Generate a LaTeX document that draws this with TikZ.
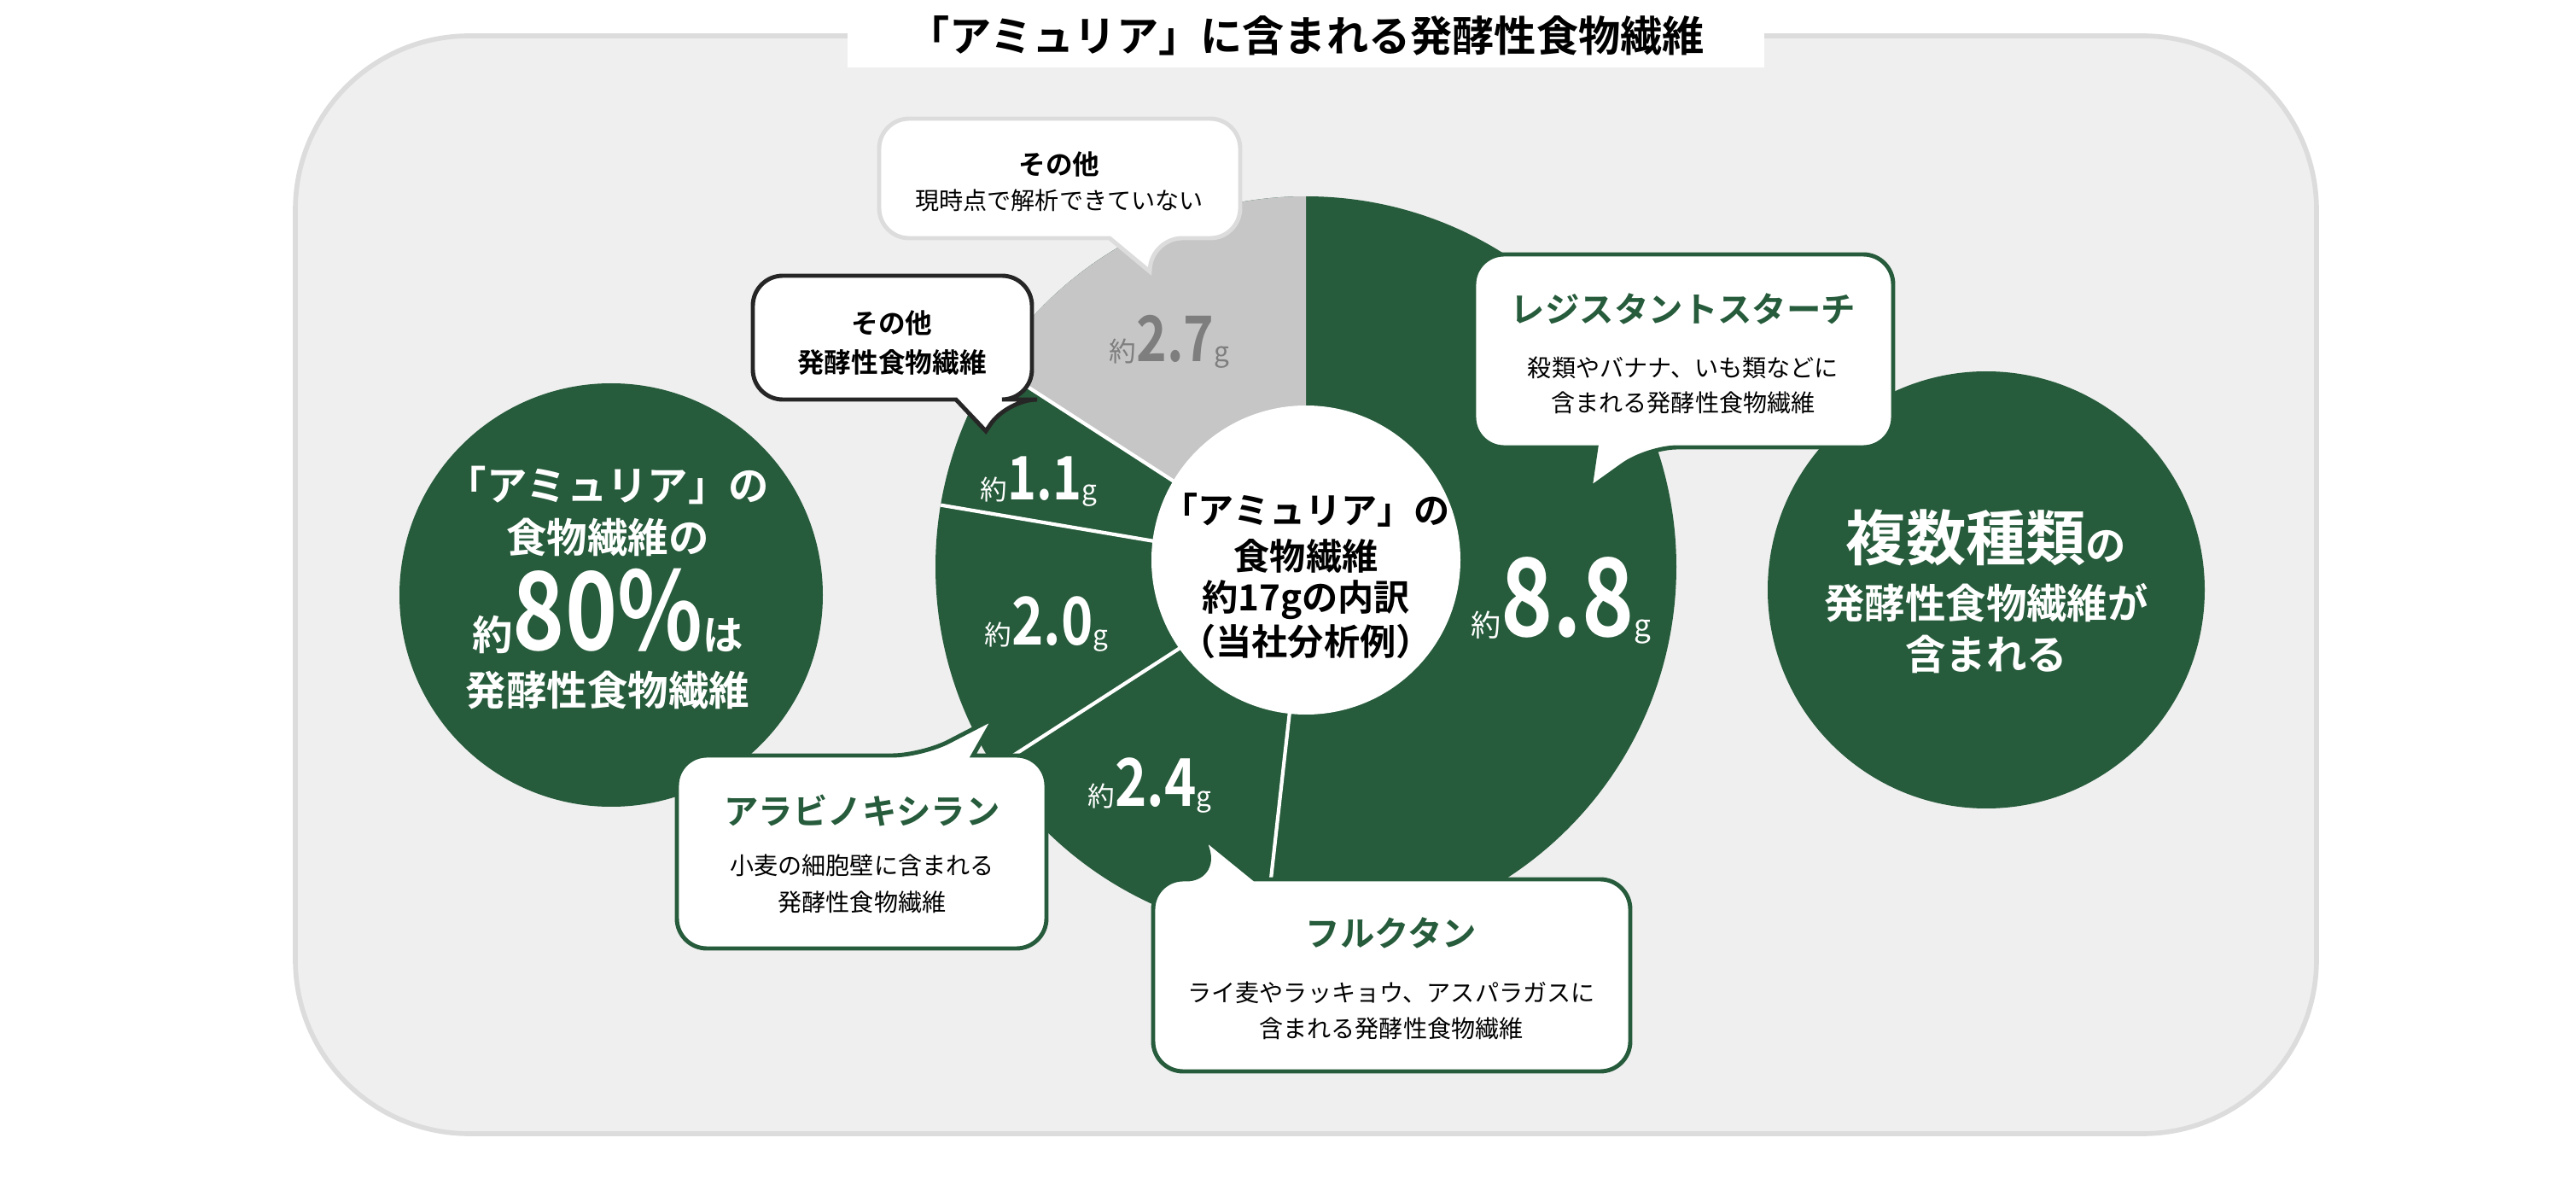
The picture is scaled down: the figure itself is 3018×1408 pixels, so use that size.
\documentclass[tikz,border=0pt]{standalone}
\usepackage{fontspec}
\setmainfont{Noto Sans CJK JP}[BoldFont={Noto Sans CJK JP Bold}]
\newfontfamily\numf{Noto Sans CJK JP Bold}[FakeStretch=0.82]
\definecolor{dg}{HTML}{265B3B}
\definecolor{bgc}{HTML}{EFEFEF}
\definecolor{bdc}{HTML}{DCDCDC}
\definecolor{pg}{HTML}{C6C6C6}
\definecolor{gt}{HTML}{7E7E7E}
\newcommand{\fs}[1]{\fontsize{#1}{#1}\selectfont}
\newcommand{\val}[3]{{\fs{#1}約}{\numf\fs{#2}#3}{\fs{#1}g}}
\begin{document}
\begin{tikzpicture}[x=0.1mm,y=-0.1mm,
  txt/.style={align=center,inner sep=0pt},
  wt/.style={txt,text=white},
  box/.style={fill=white,line width=1.4pt,rounded corners=10},
  sep/.style={draw=white,line width=1.2pt}]
\useasboundingbox (0,0) rectangle (3018,1408);
\fill[white] (0,0) rectangle (3018,1408);
\draw[fill=bgc,draw=bdc,line width=1.6pt,rounded corners=58] (346,42) rectangle (2714,1328);
\node[txt,fill=white,inner xsep=20pt,inner ysep=4pt,font=\bfseries\fs{14}] (title) at (1530,42) {「アミュリア」に含まれる発酵性食物繊維};
% big circles
\fill[dg] (716,697) circle[radius=24.8mm];
\fill[dg] (2327,691) circle[radius=25.6mm];
\node[wt,font=\bfseries\fs{13.5}] (l1) at (712,568) {「アミュリア」の};
\node[wt,font=\bfseries\fs{13.5}] (l2) at (712,629) {食物繊維の};
\node[wt] (l3) at (712,716) {{\bfseries\fs{13.5}約}{\numf\fs{36}80\%}{\bfseries\fs{13.5}は}};
\node[wt,font=\bfseries\fs{13.5}] (l4) at (712,808) {発酵性食物繊維};
\node[wt] (r1) at (2327,630) {{\bfseries\fs{20}複数種類}{\bfseries\fs{13.5}の}};
\node[wt,font=\bfseries\fs{13.5}] (r2) at (2327,706) {発酵性食物繊維が};
\node[wt,font=\bfseries\fs{13.5}] (r3) at (2327,766) {含まれる};
% pie
\begin{scope}[shift={(1530,664)},y=0.1mm]
\fill[dg] (0,0) circle[radius=43.4mm];
\fill[pg] (0,0) -- (147.1:434) arc[start angle=147.1,end angle=90,radius=43.4mm] -- cycle;
\draw[sep] (0,0) -- (-96.4:434);
\draw[sep] (0,0) -- (-147.2:434);
\draw[sep] (0,0) -- (170.4:434);
\draw[sep] (0,0) -- (147.1:434);
\fill[white] (0,8) circle[radius=18.1mm];
\end{scope}
\node[txt,font=\bfseries\fs{12},align=center] (c1) at (1530,597) {「アミュリア」の};
\node[txt,font=\bfseries\fs{12}] (c2) at (1530,651) {食物繊維};
\node[txt,font=\bfseries\fs{12}] (c3) at (1530,703) {約17gの内訳};
\node[txt,font=\bfseries\fs{12}] (c4) at (1530,751) {（当社分析例）};
\node[txt,text=gt] (v27) at (1370,400) {\val{9}{21}{2.7}};
\node[wt] (v11) at (1217,564) {\val{9}{20}{1.1}};
\node[wt] (v20) at (1226,731) {\val{9}{22}{2.0}};
\node[wt] (v24) at (1347,920) {\val{9}{22}{2.4}};
\node[wt] (v88) at (1829,703) {\val{10}{36}{8.8}};
% callouts
\draw[box,draw=bdc] (1030,139) -- (1453,139) -- (1453,279) -- (1350,279) [sharp corners] -- (1347,318) -- (1300,279) [rounded corners=10] -- (1030,279) -- cycle;
\node[txt,font=\bfseries\fs{9}] (o1) at (1241,193) {その他};
\node[txt,font=\fs{8}] (o2) at (1241,235) {現時点で解析できていない};
\draw[box,draw=black!85] (882,323) -- (1209,323) -- (1209,468) -- (1180,468) [sharp corners] -- (1155,505) -- (1120,468) [rounded corners=10] -- (882,468) -- cycle;
\node[txt,font=\bfseries\fs{9}] (p1) at (1045,379) {その他};
\node[txt,font=\bfseries\fs{9}] (p2) at (1045,424) {発酵性食物繊維};
\draw[box,draw=dg] (1727,298) -- (2218,298) -- (2218,524) -- (1930,524) [sharp corners] -- (1863,572) -- (1870,524) [rounded corners=10] -- (1727,524) -- cycle;
\node[txt,font=\bfseries\fs{11.5},text=dg] (s1) at (1972,362) {レジスタントスターチ};
\node[txt,font=\fs{8}] (s2) at (1972,431) {殺類やバナナ、いも類などに};
\node[txt,font=\fs{8}] (s3) at (1972,472) {含まれる発酵性食物繊維};
\draw[box,draw=dg] (793,885) -- (1080,885) [sharp corners] -- (1165,841) -- (1140,885) [rounded corners=10] -- (1226,885) -- (1226,1111) -- (793,1111) -- cycle;
\node[txt,font=\bfseries\fs{11.5},text=dg] (a1) at (1010,949) {アラビノキシラン};
\node[txt,font=\fs{8}] (a2) at (1010,1014) {小麦の細胞壁に含まれる};
\node[txt,font=\fs{8}] (a3) at (1010,1057) {発酵性食物繊維};
\draw[box,draw=dg] (1351,1030) -- (1425,1030) [sharp corners] -- (1411,982) -- (1470,1030) [rounded corners=10] -- (1910,1030) -- (1910,1255) -- (1351,1255) -- cycle;
\node[txt,font=\bfseries\fs{11.5},text=dg] (f1) at (1630,1093) {フルクタン};
\node[txt,font=\fs{8}] (f2) at (1630,1163) {ライ麦やラッキョウ、アスパラガスに};
\node[txt,font=\fs{8}] (f3) at (1630,1205) {含まれる発酵性食物繊維};
\end{tikzpicture}
\end{document}
